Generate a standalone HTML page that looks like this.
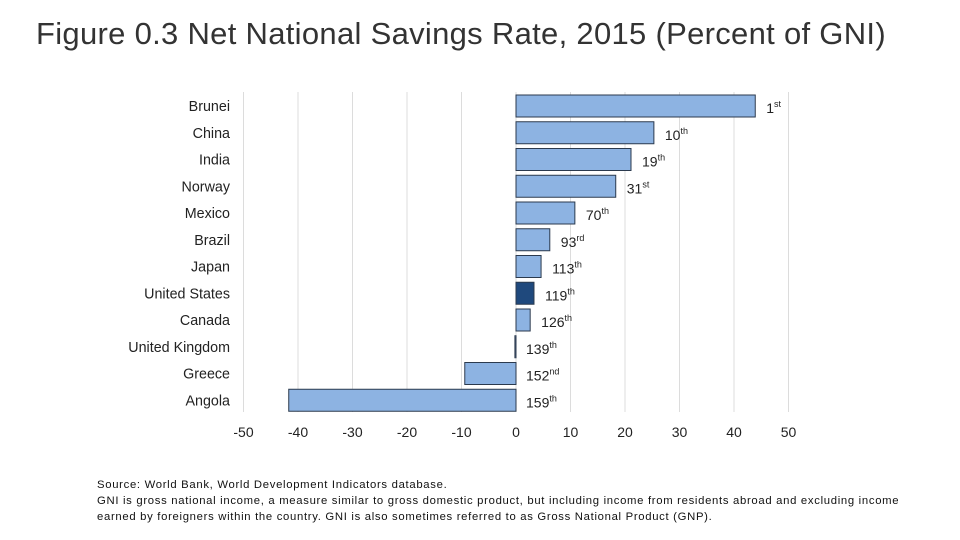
<!DOCTYPE html>
<html><head><meta charset="utf-8"><style>
body{margin:0;background:#fff;width:960px;height:540px;overflow:hidden;font-family:"Liberation Sans",sans-serif}
.title{position:absolute;left:36px;top:16px;font-size:31px;color:#333;font-family:"Liberation Sans",sans-serif;font-weight:300;letter-spacing:0.3px;white-space:nowrap}
.note{position:absolute;left:97px;top:477px;font-size:11.3px;line-height:16px;color:#111;white-space:nowrap;letter-spacing:0.69px}
</style></head><body>
<div class="title">Figure 0.3 Net National Savings Rate, 2015 (Percent of GNI)</div>
<svg id="chart" width="960" height="540" style="position:absolute;left:0;top:0"></svg>
<div class="note">Source: World Bank, World Development Indicators database.<br>GNI is gross national income, a measure similar to gross domestic product, but including income from residents abroad and excluding income<br>earned by foreigners within the country. GNI is also sometimes referred to as Gross National Product (GNP).</div>
<script>
const countries=["Brunei","China","India","Norway","Mexico","Brazil","Japan","United States","Canada","United Kingdom","Greece","Angola"];
const values=[43.9,25.3,21.1,18.3,10.8,6.2,4.6,3.3,2.6,-0.2,-9.4,-41.7];
const ranks=["1","10","19","31","70","93","113","119","126","139","152","159"];
const suffixes=["st","th","th","st","th","rd","th","th","th","th","nd","th"];
const ticks=[-50,-40,-30,-20,-10,0,10,20,30,40,50];
const NS="http://www.w3.org/2000/svg";
const svg=document.getElementById('chart');
const x=v=>516+(v)*5.45;
const yc=i=>106+i*26.75;
function mk(t,a){const e=document.createElementNS(NS,t);for(const k in a)e.setAttribute(k,a[k]);svg.appendChild(e);return e;}
ticks.forEach(t=>{
 const g=mk('line',{x1:x(t),x2:x(t),y1:92,y2:412,stroke:'#dcdcdc','stroke-width':1});
 
 
 const l=mk('text',{x:x(t),y:437,'text-anchor':'middle','font-size':14,fill:'#222'});
 l.textContent=t;
 
 
});
countries.forEach((c,i)=>{
 const v=values[i];
 const x0=Math.min(x(0),x(v)),w=Math.max(Math.abs(x(v)-x(0)),1);
 const r=mk('rect',{x:x0,y:yc(i)-11,width:w,height:22,fill:c==="United States"?'#1f497d':'#8db3e2',stroke:'#2b3a4e','stroke-width':1});
 
 
 const t=mk('text',{x:230,y:yc(i)+5,'text-anchor':'end','font-size':14.3,fill:'#222'});
 t.textContent=c;
 
 
 const lx=Math.max(x(v),x(0))+(v>0?11:10);
 const rk=mk('text',{x:lx,y:yc(i)+7,'font-size':14,fill:'#222'});
 rk.textContent=ranks[i];
 const s=document.createElementNS(NS,'tspan');
 s.setAttribute('font-size','9');s.setAttribute('dy','-6');s.textContent=suffixes[i];
 rk.appendChild(s);
 
 
});
</script>
</body></html>
